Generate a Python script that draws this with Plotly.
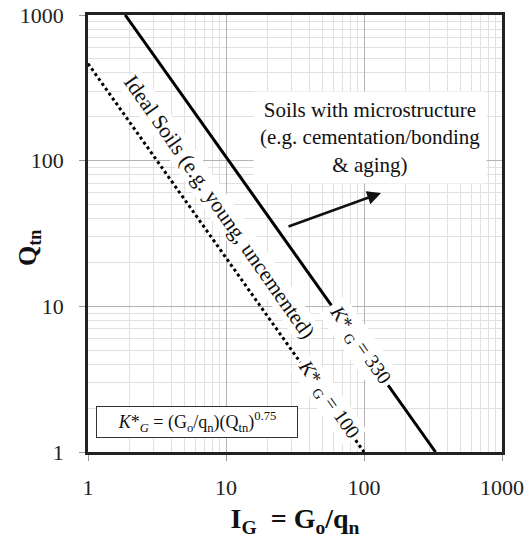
import math
import plotly.graph_objects as go

# --- data ---
solid_x = [1.86, 330]      # K*_G = 330 line (I_G)
solid_y = [1000, 1]        # Q_tn
dotted_x = [1, 100]        # K*_G = 100 line
dotted_y = [464, 1]
tick_vals = [1, 10, 100, 1000]
tick_text = ["1", "10", "100", "1000"]

FONT = "Liberation Serif, Times New Roman, serif"

minor_vals = [m * d for d in (1, 10, 100) for m in range(2, 10)]

fig = go.Figure()
fig.add_trace(go.Scatter(x=solid_x, y=solid_y, mode="lines",
                         line=dict(color="black", width=3), showlegend=False))
fig.add_trace(go.Scatter(x=dotted_x, y=dotted_y, mode="lines",
                         line=dict(color="black", width=3, dash="dot"), showlegend=False))

axis_common = dict(
    type="log", range=[0, 3], tickvals=tick_vals, ticktext=tick_text,
    showgrid=True, gridcolor="#b4b4b4", gridwidth=1,
    ticks="outside", ticklen=6, tickcolor="#999",
    showline=True, linecolor="#222", linewidth=2.5, mirror=True,
    tickfont=dict(family=FONT, size=22, color="#222"),
    minor=dict(tickvals=minor_vals, showgrid=True, gridcolor="#e0e0e0", gridwidth=1, ticks=""),
    zeroline=False, automargin=False,
)

fig.update_layout(
    width=527, height=541,
    margin=dict(l=88, r=25, t=15, b=89),
    plot_bgcolor="white", paper_bgcolor="white",
    xaxis=dict(axis_common, ticklabelstandoff=8, title=dict(
        text="<b>I<sub>G</sub>  = G<sub>o</sub>/q<sub>n</sub></b>",
        font=dict(family=FONT, size=28, color="#111"), standoff=10)),
    yaxis=dict(axis_common, ticklabelstandoff=11),
    font=dict(family=FONT),
)

PW, PH = 414, 437
ann = []
# y axis title
ann.append(dict(xref="paper", yref="paper", x=(29 - 88) / PW, y=(452 - 248) / PH,
                xanchor="center", yanchor="middle",
                text="<b>Q<sub>tn</sub></b>", textangle=-90, showarrow=False,
                font=dict(family=FONT, size=26, color="#111")))
# Ideal soils label
ann.append(dict(x=0.95, y=1.68, text="Ideal Soils (e.g. young, uncemented)",
                textangle=55, showarrow=False, bgcolor="white",
                font=dict(family=FONT, size=21.5, color="#111")))
# K*G = 330
ann.append(dict(x=1.97, y=0.73, text="<i>K</i>* <sub>G</sub> = 330",
                textangle=55, showarrow=False, bgcolor="white", borderpad=3,
                font=dict(family=FONT, size=20, color="#111")))
# K*G = 100
ann.append(dict(x=1.74, y=0.36, text="<i>K</i>* <sub>G</sub> = 100",
                textangle=55, showarrow=False, bgcolor="white", borderpad=1,
                font=dict(family=FONT, size=20, color="#111")))
# microstructure text
ann.append(dict(x=(370 - 88) / 138, y=(452 - 137) / 145.7,
                text="Soils with microstructure<br>(e.g. cementation/bonding<br>&amp; aging)",
                showarrow=False, bgcolor="white", borderpad=6,
                font=dict(family=FONT, size=21, color="#111")))
# arrow
ann.append(dict(x=(381 - 88) / 138, y=(452 - 193) / 145.7,
                ax=(287 - 88) / 138, ay=(452 - 227) / 145.7,
                axref="x", ayref="y", text="", showarrow=True,
                arrowhead=2, arrowsize=1.1, arrowwidth=2.5, arrowcolor="#111"))
# formula box
ann.append(dict(x=(197 - 88) / 138, y=(452 - 422) / 145.7,
                text="<i>K</i>*<sub><i>G</i></sub> = (G<sub>o</sub>/q<sub>n</sub>)(Q<sub>tn</sub>)<sup>0.75</sup>",
                showarrow=False, bgcolor="white", bordercolor="#333", borderwidth=1,
                width=198, height=28,
                font=dict(family=FONT, size=18, color="#111")))
fig.update_layout(annotations=ann)

# remove the default 8px page margin so the 527x541 figure fills the window exactly
fig.write_html("out.html", config={"displayModeBar": False},
               post_script="document.body.style.margin='0';document.body.style.overflow='hidden';")
